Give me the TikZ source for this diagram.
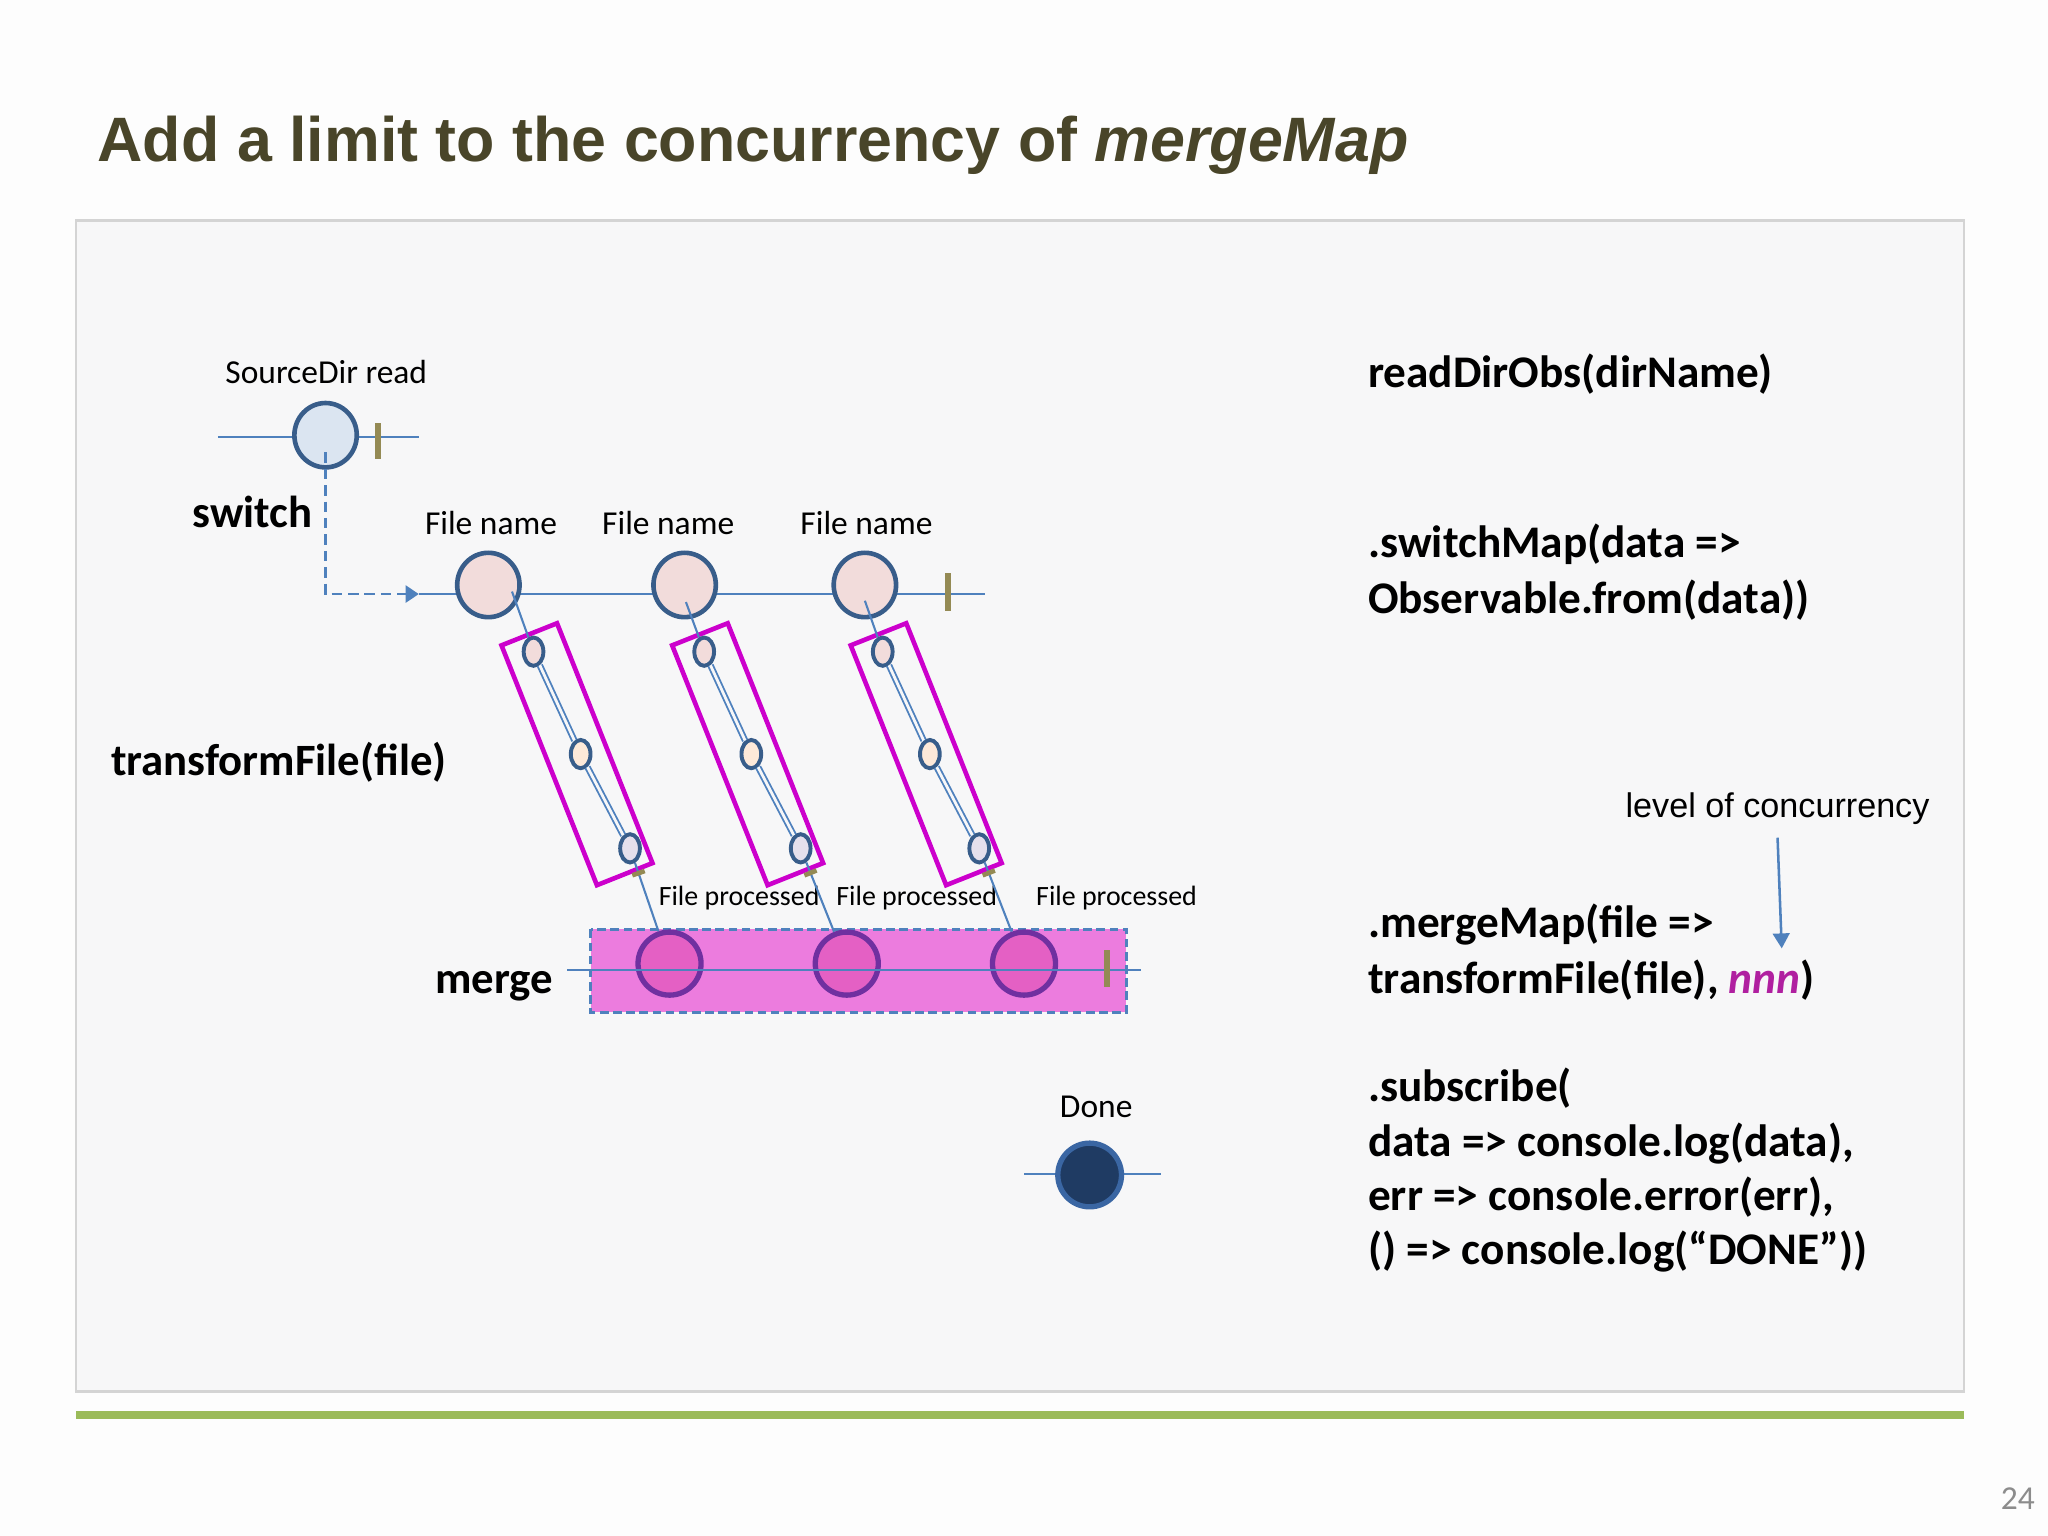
\documentclass[tikz,border=0pt]{standalone}
\usepackage{fontspec}
\setmainfont{Carlito}
\newfontfamily\arialfont{Liberation Sans}
\usetikzlibrary{shapes.geometric,arrows.meta}

\definecolor{pagewhite}{RGB}{253,253,253}
\definecolor{panelfill}{RGB}{247,247,248}
\definecolor{panelline}{RGB}{212,212,212}
\definecolor{barolive}{RGB}{155,187,89}
\definecolor{pagegray}{RGB}{140,140,140}
\definecolor{titleolive}{RGB}{73,69,41}
\definecolor{lineblue}{RGB}{79,129,189}
\definecolor{ringblue}{RGB}{56,93,138}
\definecolor{srcfill}{RGB}{219,229,241}
\definecolor{namefill}{RGB}{242,220,219}
\definecolor{midfill}{RGB}{253,233,217}
\definecolor{endfill}{RGB}{229,224,236}
\definecolor{tickolive}{RGB}{148,138,84}
\definecolor{boxmagenta}{RGB}{204,0,204}
\definecolor{mergefill}{RGB}{236,124,222}
\definecolor{mergedot}{RGB}{228,96,196}
\definecolor{mergering}{RGB}{112,48,160}
\definecolor{donefill}{RGB}{31,59,99}
\definecolor{donering}{RGB}{58,102,163}
\definecolor{nnnpink}{RGB}{176,32,160}

\tikzset{
  panel/.style={draw=panelline, fill=panelfill, line width=0.5pt},
  tline/.style={lineblue, line width=0.45pt},
  endtick/.style={tickolive, line width=1.3pt},
  marble/.style={ellipse, draw=ringblue, line width=1pt, inner sep=0pt,
    minimum width=0.475cm, minimum height=0.49cm},
  innerdot/.style={ellipse, draw=ringblue, line width=0.85pt, inner sep=0pt,
    minimum width=0.15cm, minimum height=0.215cm},
  window/.style={rectangle, draw=boxmagenta, line width=1pt, inner sep=0pt,
    minimum width=0.455cm, minimum height=1.965cm, rotate=21.7},
  pairline/.style={draw=lineblue, line width=0.4pt, double=panelfill, double distance=0.6pt},
  innertick/.style={rectangle, fill=tickolive, inner sep=0pt,
    minimum width=0.035cm, minimum height=0.1cm},
  mergebox/.style={draw=lineblue, fill=mergefill, line width=0.6pt,
    dash pattern=on 0.065cm off 0.035cm},
  mdot/.style={circle, draw=mergering, fill=mergedot, line width=1.15pt,
    inner sep=0pt, minimum size=0.48cm},
  donedot/.style={circle, draw=donering, fill=donefill, line width=1.15pt,
    inner sep=0pt, minimum size=0.485cm},
  switchline/.style={lineblue, line width=0.5pt, dash pattern=on 0.08cm off 0.045cm,
    -{Triangle[length=0.1cm,width=0.13cm]}},
  pointer/.style={lineblue, line width=0.55pt, -{Triangle[length=0.114cm,width=0.127cm]}},
  namelbl/.style={font=\fontsize{7.25}{8.5}\selectfont, inner sep=0pt, anchor=base},
  proclbl/.style={font=\fontsize{6.05}{7}\selectfont, inner sep=0pt, anchor=base},
  boldlbl/.style={font=\fontsize{9.7}{11.5}\selectfont\bfseries, inner sep=0pt},
  codetxt/.style={font=\fontsize{9.8}{11.5}\selectfont\bfseries, inner sep=0pt, anchor=base west},
  arialtxt/.style={font=\arialfont\fontsize{7.4}{9}\selectfont, inner sep=0pt, anchor=base},
  titletxt/.style={font=\arialfont\bfseries\fontsize{13.59}{16}\selectfont,
    text=titleolive, inner sep=0pt, anchor=base west},
}

\begin{document}
\begin{tikzpicture}[x=0.01cm, y=0.01cm]
\useasboundingbox[fill=pagewhite] (0,0) rectangle (1560,-1170);
% slide frame
\draw[panel] (58,-168) rectangle (1496,-1060);
\fill[barolive] (58,-1075) rectangle (1496,-1081);
\node[namelbl, text=pagegray] (pagenum) at (1537,-1150) {24};
\node[titletxt] (title) at (73.7,-123.2) {Add a limit to the concurrency of \textit{mergeMap}};

% source observable
\draw[tline] (166,-333) -- (319,-333);
\node[marble, fill=srcfill] (src) at (248,-331.5) {};
\draw[endtick] (288,-322.5) -- (288,-350);
\node[namelbl] (srclbl) at (248.5,-292) {SourceDir read};

% file names
\coordinate (fstart) at (319,-452.5);
\draw[tline] (fstart) -- (750,-452.5);
\foreach \r/\x in {1/372, 2/521.5, 3/658.8}
  \node[marble, fill=namefill] (f\r) at (\x,-445.6) {};
\draw[endtick] (722.4,-436.7) -- (722.4,-465.2);
\foreach \r/\x in {1/374, 2/509, 3/660}
  \node[namelbl] (fname\r) at (\x,-407.5) {File name};
\draw[switchline] ([yshift=-0.13cm]src.center) |- (fstart);

% transformFile windows
\foreach \r/\s in {1/0, 2/130, 3/266} {
  \node[window] (w\r) at ({439.5+\s},-574.5) {};
  \node[innerdot, fill=namefill] (e\r1) at ({406.4+\s},-496.4) {};
  \node[innerdot, fill=midfill] (e\r2) at ({442.3+\s},-574.4) {};
  \node[innerdot, fill=endfill] (e\r3) at ({479.9+\s},-646.2) {};
}

% merged output
\draw[mergebox] (450,-708) rectangle (858,-771);
\foreach \r/\x in {1/510, 2/645, 3/780}
  \node[mdot] (m\r) at (\x,-734) {};
\draw[tline] (432,-739) -- (869,-739);
\draw[endtick] (843,-724) -- (843,-752);
\foreach \r/\x in {1/563, 2/698.3, 3/850.5}
  \node[proclbl] (fproc\r) at (\x,-689.5) {File processed};

% connectors
\foreach \r/\sx/\sy in {1/18/-5, 2/1/-13, 3/0/-12} {
  \draw[tline] ([shift={(\sx,\sy)}]f\r.center) -- (e\r1);
  \draw[pairline] (e\r1) -- (e\r2);
  \draw[pairline] (e\r2) -- (e\r3);
  \draw[tline] (e\r3) -- node[pos=0.15, sloped, innertick] {} (m\r);
}

% done
\draw[tline] (780,-894) -- (884,-894);
\node[donedot] (done) at (830,-895) {};
\node[namelbl] (donelbl) at (835,-851) {Done};

% operator names
\node[boldlbl, anchor=base west] (swlbl) at (146,-402) {switch};
\node[boldlbl, anchor=base west] (tflbl) at (84,-591) {transformFile(file)};
\node[boldlbl, anchor=base east] (mglbl) at (422,-757) {merge};

% code
\node[codetxt] (rd) at (1041.5,-295) {readDirObs(dirName)};
\node[codetxt] (sw1) at (1041.5,-425) {.switchMap(data =>};
\node[codetxt] (sw2) at (1041.5,-467) {Observable.from(data))};
\node[codetxt] (mm1) at (1041.5,-714) {.mergeMap(file =>};
\node[codetxt] (mm2) at (1041.5,-756.5) {transformFile(file), {\color{nnnpink}\itshape nnn})};
\node[codetxt] (sb1) at (1041.5,-839) {.subscribe(};
\node[codetxt] (sb2) at (1041.5,-881) {data => console.log(data),};
\node[codetxt] (sb3) at (1041.5,-922) {err => console.error(err),};
\node[codetxt] (sb4) at (1041.5,-963) {() => console.log(“DONE”))};

\node[arialtxt] (lvl) at (1354,-623) {level of concurrency};
\coordinate (lvltip) at (1357.2,-722.4);
\draw[pointer] ([yshift=-0.09cm]lvl.south) -- (lvltip);
\end{tikzpicture}
\end{document}
